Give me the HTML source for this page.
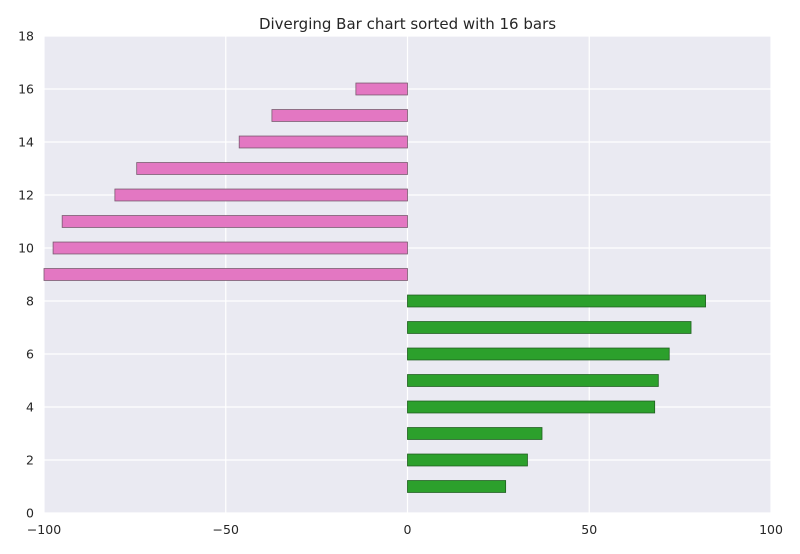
<!DOCTYPE html>
<html><head><meta charset="utf-8"><style>
body{margin:0;background:#fff;font-family:"DejaVu Sans","Liberation Sans",sans-serif;}
</style></head><body>
<svg id="chart" width="800" height="550" xmlns="http://www.w3.org/2000/svg" font-family="DejaVu Sans, Liberation Sans, sans-serif">
<rect x="0" y="0" width="800" height="550" fill="#fff"/>
<rect x="44" y="36" width="727" height="477" fill="#EAEAF2"/>
<g id="grid"></g><g id="bars"></g><g id="ticks"></g>
<text x="407.5" y="29" text-anchor="middle" font-size="15" fill="#262626">Diverging Bar chart sorted with 16 bars</text>
</svg>
<script>
const positions=[1,2,3,4,5,6,7,8,9,10,11,12,13,14,15,16];
const values=[27,33,37,68,69,72,78,82,-100,-97.5,-95,-80.5,-74.5,-46.3,-37.3,-14.2];
const xTicks=[-100,-50,0,50,100];
const xTickLabels=["\u2212100","\u221250","0","50","100"];
const yTicks=[0,2,4,6,8,10,12,14,16,18];
const X=v=>407.5+v*(727/200);
const Y=v=>513-v*(477/18);
const NS="http://www.w3.org/2000/svg";
function mk(tag,attrs,parent){const e=document.createElementNS(NS,tag);for(const k in attrs)e.setAttribute(k,attrs[k]);document.getElementById(parent).appendChild(e);return e;}
xTicks.forEach((t,i)=>{
 const l=mk('line',{x1:X(t),x2:X(t),y1:36,y2:513,stroke:'#fff','stroke-width':1.2},'grid');
 
 
 const tx=mk('text',{x:X(t),y:534,'text-anchor':'middle','font-size':12.5,fill:'#262626'},'ticks');
 tx.textContent=xTickLabels[i];
 
 
});
yTicks.forEach(t=>{
 const l=mk('line',{x1:44,x2:771,y1:Y(t),y2:Y(t),stroke:'#fff','stroke-width':1.2},'grid');
 
 
 const tx=mk('text',{x:34,y:Y(t)+4.5,'text-anchor':'end','font-size':12.5,fill:'#262626'},'ticks');
 tx.textContent=t;
 
 
});
const h=0.45;
positions.forEach((p,i)=>{
 const v=values[i];
 const x0=Math.min(X(0),X(v)),w=Math.abs(X(v)-X(0));
 const r=mk('rect',{x:x0,y:Y(p+h/2),width:w,height:Y(p-h/2)-Y(p+h/2),fill:v<0?'#E377C2':'#2CA02C',stroke:v<0?'#7a5a70':'#1f5f1f','stroke-width':0.8},'bars');
 
 
});
</script>
</body></html>
